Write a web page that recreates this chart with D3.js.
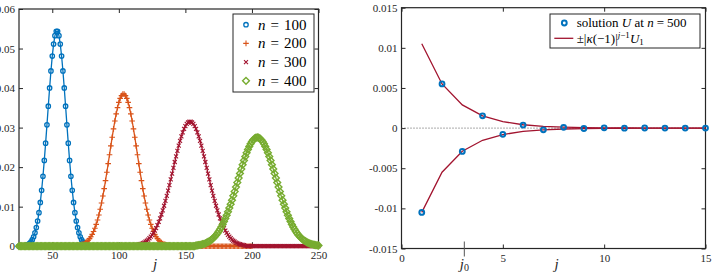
<!DOCTYPE html>
<html>
<head>
<meta charset="utf-8">
<script src="https://cdn.jsdelivr.net/npm/d3@7"></script>
<style>
body { margin: 0; background: #fff; }
svg { display: block; }
svg text { font-family: "Liberation Serif", "Times New Roman", "DejaVu Serif", serif; }
.tick text { fill: #262626; font-size: 11px; }
.tick line { stroke: #262626; }
</style>
</head>
<body>
<svg id="chart" width="715" height="272"></svg>
<script>
'use strict';

// ---- left panel data: distributions for n = 100..400 ----
const leftDomainX = [25, 250];
const leftDomainY = [0, 0.06];
const leftTicksX = [50, 100, 150, 200, 250];
const leftTicksY = [0, 0.01, 0.02, 0.03, 0.04, 0.05, 0.06];
const seriesLabels = ['100', '200', '300', '400'];

// nonzero part of each series starts at jStart, series runs to jEnd (zero elsewhere)
const u100Start = 28, u100End = 100;
const u100 = [0.00007, 0.00012, 0.00019, 0.00031, 0.00049, 0.00075, 0.00113, 0.00166, 0.00239, 0.00339,
  0.00470, 0.00638, 0.00849, 0.01107, 0.01414, 0.01769, 0.02170, 0.02607, 0.03070, 0.03541,
  0.04003, 0.04433, 0.04810, 0.05113, 0.05326, 0.05436, 0.05436, 0.05326, 0.05113, 0.04810,
  0.04433, 0.04003, 0.03541, 0.03070, 0.02607, 0.02170, 0.01769, 0.01414, 0.01107, 0.00849,
  0.00638, 0.00470, 0.00339, 0.00239, 0.00166, 0.00113, 0.00075, 0.00049, 0.00031, 0.00019,
  0.00012, 0.00007];

const u200Start = 69, u200End = 200;
const u200 = [0.00016, 0.00021, 0.00029, 0.00039, 0.00052, 0.00069, 0.00090, 0.00117, 0.00150, 0.00191,
  0.00240, 0.00300, 0.00371, 0.00454, 0.00552, 0.00664, 0.00791, 0.00935, 0.01094, 0.01268,
  0.01457, 0.01658, 0.01870, 0.02089, 0.02313, 0.02537, 0.02757, 0.02968, 0.03167, 0.03348,
  0.03506, 0.03638, 0.03740, 0.03810, 0.03846, 0.03846, 0.03810, 0.03740, 0.03638, 0.03506,
  0.03348, 0.03167, 0.02968, 0.02757, 0.02537, 0.02313, 0.02089, 0.01870, 0.01658, 0.01457,
  0.01268, 0.01094, 0.00935, 0.00791, 0.00664, 0.00552, 0.00454, 0.00371, 0.00300, 0.00240,
  0.00191, 0.00150, 0.00117, 0.00090, 0.00069, 0.00052, 0.00039, 0.00029, 0.00021, 0.00016];

const u300Start = 113, u300End = 250;
const u300 = [0.00025, 0.00031, 0.00039, 0.00049, 0.00061, 0.00076, 0.00093, 0.00114, 0.00138, 0.00167,
  0.00201, 0.00240, 0.00285, 0.00336, 0.00394, 0.00460, 0.00533, 0.00615, 0.00704, 0.00802,
  0.00909, 0.01023, 0.01144, 0.01273, 0.01408, 0.01547, 0.01691, 0.01837, 0.01984, 0.02130,
  0.02273, 0.02412, 0.02544, 0.02667, 0.02780, 0.02880, 0.02967, 0.03038, 0.03092, 0.03129,
  0.03148, 0.03148, 0.03129, 0.03092, 0.03038, 0.02967, 0.02880, 0.02780, 0.02667, 0.02544,
  0.02412, 0.02273, 0.02130, 0.01984, 0.01837, 0.01691, 0.01547, 0.01408, 0.01273, 0.01144,
  0.01023, 0.00909, 0.00802, 0.00704, 0.00615, 0.00533, 0.00460, 0.00394, 0.00336, 0.00285,
  0.00240, 0.00201, 0.00167, 0.00138, 0.00114, 0.00093, 0.00076, 0.00061, 0.00049, 0.00039,
  0.00031, 0.00025];

const u400Start = 158, u400End = 250;
const u400 = [0.00018, 0.00022, 0.00028, 0.00034, 0.00041, 0.00050, 0.00061, 0.00074, 0.00089, 0.00106,
  0.00126, 0.00149, 0.00176, 0.00206, 0.00241, 0.00280, 0.00323, 0.00372, 0.00426, 0.00486,
  0.00551, 0.00622, 0.00699, 0.00782, 0.00870, 0.00964, 0.01062, 0.01165, 0.01273, 0.01383,
  0.01496, 0.01610, 0.01725, 0.01840, 0.01953, 0.02062, 0.02168, 0.02268, 0.02362, 0.02448,
  0.02524, 0.02591, 0.02647, 0.02692, 0.02724, 0.02743, 0.02750, 0.02743, 0.02724, 0.02692,
  0.02647, 0.02591, 0.02524, 0.02448, 0.02362, 0.02268, 0.02168, 0.02062, 0.01953, 0.01840,
  0.01725, 0.01610, 0.01496, 0.01383, 0.01273, 0.01165, 0.01062, 0.00964, 0.00870, 0.00782,
  0.00699, 0.00622, 0.00551, 0.00486, 0.00426, 0.00372, 0.00323, 0.00280, 0.00241, 0.00206,
  0.00176, 0.00149, 0.00126, 0.00106, 0.00089, 0.00074, 0.00061, 0.00050, 0.00041, 0.00034,
  0.00028, 0.00022, 0.00018];

// ---- right panel data: solution at n = 500 and its envelope ----
const rightDomainX = [0, 15];
const rightDomainY = [-0.015, 0.015];
const rightTicksX = [0, 5, 10, 15];
const rightTicksY = [-0.015, -0.01, -0.005, 0, 0.005, 0.01, 0.015];
const jSol = [1, 2, 3, 4, 5, 6, 7, 8, 9, 10, 11, 12, 13, 14, 15];
const solU = [-0.0105, 0.0055, -0.0029, 0.00153, -0.00078, 0.00038, -0.00022, 0.0001, -0.00005, 0.00003,
  -0.00001, 0.00001, 0, 0, 0];
const envelope = [0.0105, 0.0055, 0.00289, 0.00152, 0.0008, 0.00042, 0.00022, 0.000115, 0.00006, 0.000032,
  0.000017, 0.0000088, 0.0000046, 0.0000024, 0.0000013];
const j0 = 3.1;

const colors = ['#0072BD', '#D95319', '#A2142F', '#77AC30'];
const axisColor = '#262626';
const serif = '"Liberation Serif", "Times New Roman", "DejaVu Serif", serif';

const svg = d3.select('#chart');

function buildSeries(start, vals, end) {
  var pts = [];
  for (let j = leftDomainX[0]; j <= end; j++) {
    let k = j - start;
    pts.push([j, k >= 0 && k < vals.length ? vals[k] : 0]);
  }
  return pts;
}

const markerPaths = {
  plus: 'M-2.8,0H2.8M0,-2.8V2.8',
  cross: 'M-2,-2L2,2M-2,2L2,-2',
  diamond: 'M0,-3.4L3.4,0L0,3.4L-3.4,0Z'
};

function drawMarkers(g, pts, kind, color, x, y) {
  if (kind == 'circle') {
    g.selectAll(null).data(pts).enter().append('circle')
      .attr('cx', d => x(d[0])).attr('cy', d => y(d[1]))
      .attr('r', 2.2)
      .attr('fill', 'none').attr('stroke', color).attr('stroke-width', 1.3);
  } else {
    g.selectAll(null).data(pts).enter().append('path')
      .attr('transform', d => `translate(${x(d[0])},${y(d[1])})`)
      .attr('d', markerPaths[kind])
      .attr('fill', 'none').attr('stroke', color)
      .attr('stroke-width', kind == 'diamond' ? 1.4 : 1.1);
  }
}

function frame(g, x, y, box, ticksX, ticksY, fmtY, padX) {
  g.append('g').attr('transform', `translate(0,${box.y1})`)
    .call(d3.axisBottom(x).tickValues(ticksX).tickSizeInner(-4).tickSizeOuter(0).tickPadding(padX).tickFormat(d3.format('')));
  g.append('g').attr('transform', `translate(0,${box.y0})`)
    .call(d3.axisTop(x).tickValues(ticksX).tickSizeInner(-4).tickSizeOuter(0).tickFormat(''));
  g.append('g').attr('transform', `translate(${box.x0},0)`)
    .call(d3.axisLeft(y).tickValues(ticksY).tickSizeInner(-4).tickSizeOuter(0).tickPadding(4).tickFormat(fmtY));
  g.append('g').attr('transform', `translate(${box.x1},0)`)
    .call(d3.axisRight(y).tickValues(ticksY).tickSizeInner(-4).tickSizeOuter(0).tickFormat(''));
  g.selectAll('.domain').remove();
  g.selectAll('g').attr('font-family', serif).attr('font-size', 11);
  g.append('rect')
    .attr('x', box.x0).attr('y', box.y0)
    .attr('width', box.x1 - box.x0).attr('height', box.y1 - box.y0)
    .attr('fill', 'none').attr('stroke', axisColor).attr('stroke-width', 1.2);
}

const fmtNum = d => d == 0 ? '0' : String(+d.toFixed(3));

// ================= left panel =================
const L = { x0: 19, x1: 318.5, y0: 9, y1: 246.2 };
const xL = d3.scaleLinear().domain(leftDomainX).range([L.x0, L.x1]);
const yL = d3.scaleLinear().domain(leftDomainY).range([L.y1, L.y0]);
const gL = svg.append('g').attr('font-family', serif);

const leftSeries = [
  buildSeries(u100Start, u100, u100End),
  buildSeries(u200Start, u200, u200End),
  buildSeries(u300Start, u300, u300End),
  buildSeries(u400Start, u400, u400End)
];
const kinds = ['circle', 'plus', 'cross', 'diamond'];

frame(gL, xL, yL, L, leftTicksX, leftTicksY, fmtNum, 5);

const lineL = d3.line().x(d => xL(d[0])).y(d => yL(d[1]));
leftSeries.forEach((pts, i) => {
  var g = gL.append('g');
  g.append('path').attr('d', lineL(pts))
    .attr('fill', 'none').attr('stroke', colors[i]).attr('stroke-width', 1.3);
  drawMarkers(g, pts, kinds[i], colors[i], xL, yL);
});

gL.append('text')
  .attr('x', 155).attr('y', 269)
  .attr('text-anchor', 'middle')
  .attr('font-style', 'italic').attr('font-size', 15)
  .attr('fill', axisColor)
  .text('j');

// legend
const legL = gL.append('g');
legL.append('rect')
  .attr('x', 233).attr('y', 14).attr('width', 81).attr('height', 78)
  .attr('fill', '#fff').attr('stroke', axisColor).attr('stroke-width', 1);
seriesLabels.forEach((lab, i) => {
  var cy = 24.7 + i * 18.7;
  drawMarkers(legL, [[0, 0]], kinds[i], colors[i], () => 246, () => cy);
  var t = legL.append('text')
    .attr('x', 258).attr('y', cy + 5)
    .attr('font-size', 15).attr('fill', '#000');
  t.append('tspan').attr('font-style', 'italic').text('n');
  t.append('tspan').attr('dx', 5).text('=');
  t.append('tspan').attr('dx', 5).text(lab);
});

// ================= right panel =================
const R = { x0: 401.5, x1: 705.5, y0: 7.7, y1: 248.5 };
const xR = d3.scaleLinear().domain(rightDomainX).range([R.x0, R.x1]);
const yR = d3.scaleLinear().domain(rightDomainY).range([R.y1, R.y0]);
const gR = svg.append('g').attr('font-family', serif);

frame(gR, xR, yR, R, rightTicksX, rightTicksY, fmtNum, 6);

// dotted zero line
gR.append('line')
  .attr('x1', xR(rightDomainX[0])).attr('x2', xR(rightDomainX[1]))
  .attr('y1', yR(0)).attr('y2', yR(0))
  .attr('stroke', '#555').attr('stroke-width', 1).attr('stroke-dasharray', '1,2');

const lineR = d3.line().x(d => xR(d[0])).y(d => yR(d[1]));
const upper = jSol.map((j, i) => [j, envelope[i]]);
const lower = jSol.map((j, i) => [j, -envelope[i]]);
[upper, lower].forEach(pts => {
  gR.append('path').attr('d', lineR(pts))
    .attr('fill', 'none').attr('stroke', colors[2]).attr('stroke-width', 1.3);
});

gR.selectAll('circle.sol').data(jSol.map((j, i) => [j, solU[i]])).enter().append('circle')
  .attr('class', 'sol')
  .attr('cx', d => xR(d[0])).attr('cy', d => yR(d[1]))
  .attr('r', 2.4)
  .attr('fill', 'none').attr('stroke', colors[0]).attr('stroke-width', 2);

// j0 marker and labels
gR.append('line')
  .attr('x1', xR(j0)).attr('x2', xR(j0))
  .attr('y1', R.y1 - 7).attr('y2', R.y1 + 8)
  .attr('stroke', '#555').attr('stroke-width', 1);
var tj0 = gR.append('text')
  .attr('x', xR(j0)).attr('y', 269)
  .attr('text-anchor', 'middle').attr('font-size', 15).attr('fill', axisColor);
tj0.append('tspan').attr('font-style', 'italic').text('j');
tj0.append('tspan').attr('font-size', 10).attr('dy', 2).text('0');

gR.append('text')
  .attr('x', 556.7).attr('y', 269)
  .attr('text-anchor', 'middle')
  .attr('font-style', 'italic').attr('font-size', 15)
  .attr('fill', axisColor)
  .text('j');

// legend
const legR = gR.append('g');
legR.append('rect')
  .attr('x', 550).attr('y', 14).attr('width', 150).attr('height', 34)
  .attr('fill', '#fff').attr('stroke', axisColor).attr('stroke-width', 1);
legR.append('circle')
  .attr('cx', 564.3).attr('cy', 23).attr('r', 2.4)
  .attr('fill', 'none').attr('stroke', colors[0]).attr('stroke-width', 2);
var t1 = legR.append('text').attr('x', 576.7).attr('y', 27).attr('font-size', 13).attr('fill', '#000');
t1.append('tspan').text('solution ');
t1.append('tspan').attr('font-style', 'italic').text('U');
t1.append('tspan').text(' at ');
t1.append('tspan').attr('font-style', 'italic').text('n');
t1.append('tspan').attr('dx', 3).text('=');
t1.append('tspan').attr('dx', 3).text('500');

legR.append('line')
  .attr('x1', 554.3).attr('x2', 573.3).attr('y1', 38.3).attr('y2', 38.3)
  .attr('stroke', colors[2]).attr('stroke-width', 1.3);
var t2 = legR.append('text').attr('x', 576.7).attr('y', 43).attr('font-size', 13).attr('fill', '#000');
t2.append('tspan').text('±|');
t2.append('tspan').attr('font-style', 'italic').text('κ');
t2.append('tspan').text('(−1)|');
t2.append('tspan').attr('font-size', 9).attr('dy', -5).attr('font-style', 'italic').text('j');
t2.append('tspan').attr('font-size', 9).text('−1');
t2.append('tspan').attr('dy', 5).attr('font-style', 'italic').text('U');
t2.append('tspan').attr('font-size', 9).attr('dy', 2).text('1');
</script>
</body>
</html>
